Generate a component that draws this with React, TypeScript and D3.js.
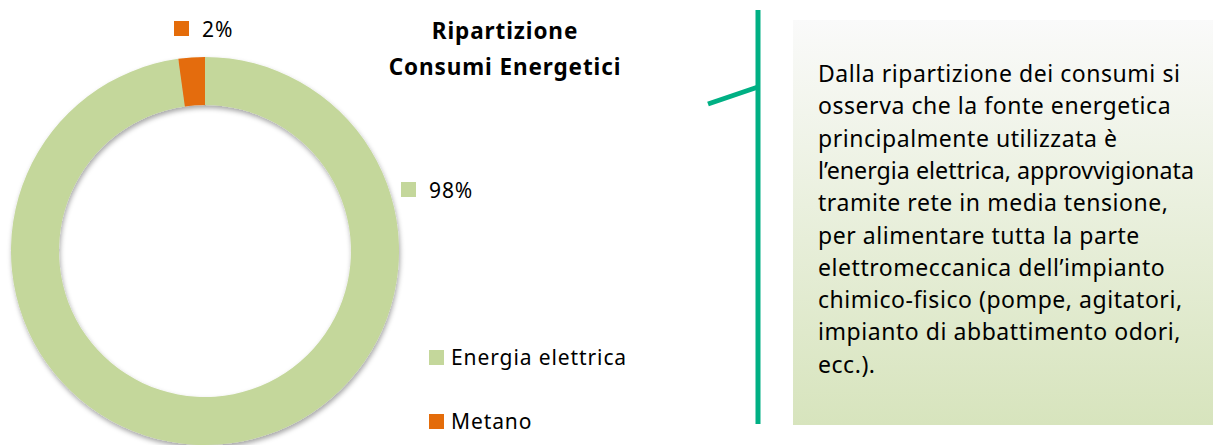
import React, { useEffect, useRef } from 'react';
import * as d3 from 'd3';

// chart data
const categories = ['Energia elettrica', 'Metano'];
const values = [97.8, 2.2];
const valueLabels = ['98%', '2%'];
const colors = ['#C4D79B', '#E46C0A'];

const titleLines = ['Ripartizione', 'Consumi Energetici'];
const noteLines = [
  'Dalla ripartizione dei consumi si',
  'osserva che la fonte energetica',
  'principalmente utilizzata è',
  'l’energia elettrica, approvvigionata',
  'tramite rete in media tensione,',
  'per alimentare tutta la parte',
  'elettromeccanica dell’impianto',
  'chimico-fisico (pompe, agitatori,',
  'impianto di abbattimento odori,',
  'ecc.).',
];

const WIDTH = 1213;
const HEIGHT = 445;
const FONT = '"Noto Sans", "Open Sans", sans-serif';

export default function App() {
  const svgRef = useRef<SVGSVGElement | null>(null);

  useEffect(() => {
    const svg = d3.select(svgRef.current);
    svg.selectAll('*').remove();

    const defs = svg.append('defs');
    const shadow = defs.append('filter')
      .attr('id', 'ringShadow')
      .attr('x', '-10%').attr('y', '-10%')
      .attr('width', '120%').attr('height', '120%');
    shadow.append('feDropShadow')
      .attr('dx', 1).attr('dy', 3)
      .attr('stdDeviation', 2.5)
      .attr('flood-color', '#000')
      .attr('flood-opacity', 0.35);

    const grad = defs.append('linearGradient')
      .attr('id', 'noteFill')
      .attr('x1', 0).attr('y1', 0).attr('x2', 0).attr('y2', 1);
    grad.append('stop').attr('offset', '0%').attr('stop-color', '#FAFAFA');
    grad.append('stop').attr('offset', '100%').attr('stop-color', '#D7E4BD');

    // doughnut
    const cx = 205, cy = 251;
    const outerR = 194, innerR = 146;

    const pie = d3.pie<number>().sort(null).value(d => d);
    const arc = d3.arc<d3.PieArcDatum<number>>()
      .innerRadius(innerR)
      .outerRadius(outerR);

    const g = svg.append('g')
      .attr('transform', 'translate(' + cx + ',' + cy + ')');

    const ring = g.append('g').attr('filter', 'url(#ringShadow)');
    ring.selectAll('path')
      .data(pie(values))
      .enter().append('path')
      .attr('d', arc)
      .attr('fill', (d, i) => colors[i]);

    // data labels (moved outside the ring, like the original)
    const labelPos = [
      { x: 196, y: -69 },  // 98%
      { x: -31, y: -230 }, // 2%
    ];
    valueLabels.forEach((lab, i) => {
      const lg = g.append('g')
        .attr('transform', 'translate(' + labelPos[i].x + ',' + labelPos[i].y + ')');
      lg.append('rect')
        .attr('width', 15).attr('height', 15)
        .attr('fill', colors[i]);
      lg.append('text')
        .attr('x', 28).attr('y', 16)
        .attr('font-family', FONT)
        .attr('font-size', 21)
        .attr('letter-spacing', 0.9)
        .attr('fill', '#000')
        .text(lab);
    });

    // legend
    const legend = svg.append('g').attr('transform', 'translate(429,350)');
    categories.forEach((c, i) => {
      const row = legend.append('g').attr('transform', 'translate(0,' + i * 64 + ')');
      row.append('rect')
        .attr('width', 15).attr('height', 15)
        .attr('fill', colors[i]);
      row.append('text')
        .attr('x', 22).attr('y', 15)
        .attr('font-family', FONT)
        .attr('font-size', 21)
        .attr('letter-spacing', 0.9)
        .attr('fill', '#000')
        .text(c);
    });

    // title
    svg.append('text')
      .attr('text-anchor', 'middle')
      .attr('font-family', FONT)
      .attr('font-weight', 'bold')
      .attr('font-size', 22.5)
      .attr('letter-spacing', 0.9)
      .selectAll('tspan')
      .data(titleLines)
      .enter().append('tspan')
      .attr('x', 505)
      .attr('y', (d, i) => 39 + i * 36)
      .text(d => d);

    // bracket + callout line
    svg.append('line')
      .attr('x1', 758).attr('y1', 10)
      .attr('x2', 758).attr('y2', 424)
      .attr('stroke', '#00B084').attr('stroke-width', 5);
    svg.append('line')
      .attr('x1', 708).attr('y1', 104)
      .attr('x2', 758).attr('y2', 87)
      .attr('stroke', '#00B084').attr('stroke-width', 5);

    // note box
    svg.append('rect')
      .attr('x', 793).attr('y', 20)
      .attr('width', WIDTH - 793).attr('height', 405)
      .attr('fill', 'url(#noteFill)');

    const maxLine = 376;
    svg.append('g')
      .selectAll('text')
      .data(noteLines)
      .enter().append('text')
      .attr('font-family', FONT)
      .attr('font-size', 23)
      .attr('letter-spacing', 0.55)
      .attr('fill', '#000')
      .attr('x', 818)
      .attr('y', (d, i) => 82 + i * 32.3)
      .text(d => d)
      .each(function () {
        // squeeze lines that would run past the box, as the original does
        const el = this as SVGTextElement;
        if (el.getComputedTextLength() > maxLine) {
          d3.select(el)
            .attr('letter-spacing', 0)
            .attr('textLength', maxLine)
            .attr('lengthAdjust', 'spacingAndGlyphs');
        }
      });
  }, []);

  return (
    <svg
      ref={svgRef}
      width={WIDTH}
      height={HEIGHT}
      style={{ position: 'absolute', left: 0, top: 0, background: '#fff' }}
    />
  );
}
